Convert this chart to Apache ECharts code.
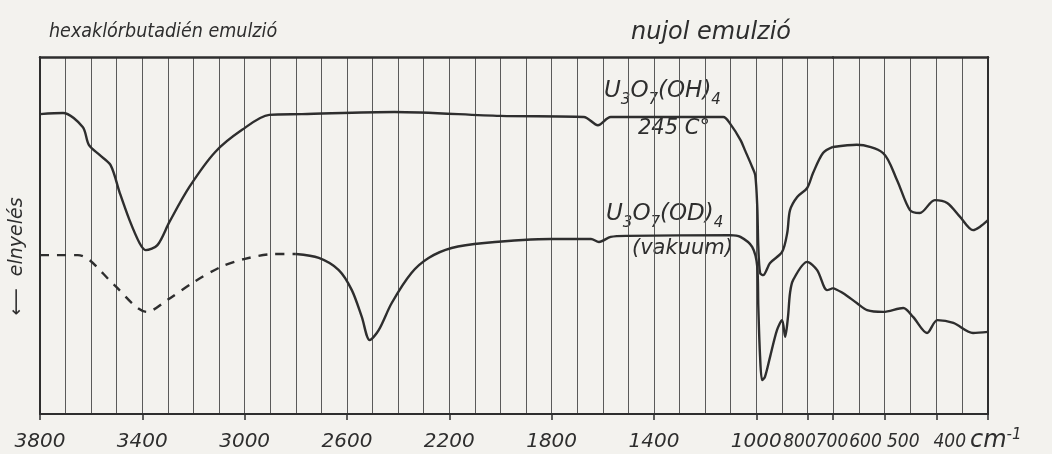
<!DOCTYPE html>
<html><head><meta charset="utf-8">
<script src="https://cdn.jsdelivr.net/npm/echarts@6/dist/echarts.min.js"></script>
<style>html,body{margin:0;padding:0;background:#f3f2ee;}#c{width:1052px;height:454px;}</style>
</head><body><div id="c"></div>
<script>
// wavenumbers (cm-1) and relative level (arbitrary units, 0 = bottom, 100 = top of frame)
const ohWave = [3800,3710,3633,3609,3566,3524,3488,3450,3411,3387,3341,3294,3216,3115,3010,2904,2776,2414,2000,1674,1619,1569,1129,1101,1062,1043,1016,1004,996,992,985,973,946,899,879,868,840,801,778,739,700,654,603,576,551,532,503,479,454,429,416,400];
const ohVal  = [84.0,84.3,80.4,75.4,72.5,69.7,61.9,54.3,47.9,45.9,47.3,53.8,63.6,73.4,79.6,83.8,84.0,84.6,83.5,83.2,80.9,83.2,83.2,81.2,76.8,73.7,69.2,66.9,58.0,46.8,39.5,38.9,42.3,45.4,50.7,57.1,60.8,63.3,67.5,73.1,74.8,75.4,73.1,65.5,57.1,56.3,59.9,59.1,55.2,51.5,52.4,54.3];
const odDashWave = [3800,3652,3606,3509,3381,3303,3198,3093,3003,2886,2800];
const odDashVal  = [44.5,44.5,43.1,36.1,28.6,31.9,37.0,41.2,43.4,44.8,44.8];
const odWave = [2800,2710,2632,2581,2542,2511,2476,2425,2348,2281,2191,2063,1802,1646,1615,1569,1502,1101,1062,1016,996,992,985,977,966,946,919,899,887,876,868,856,801,762,723,700,681,654,634,603,564,545,518,498,467,429,400];
const odVal  = [44.8,43.7,40.3,34.7,27.2,20.7,23.5,31.1,39.5,43.7,46.5,47.9,49.0,49.0,48.2,49.6,49.9,50.1,49.6,46.8,41.2,30.0,16.0,9.5,10.4,16.0,23.5,26.3,21.6,27.2,33.9,37.5,42.6,40.3,34.7,35.3,33.9,31.1,29.1,28.6,29.7,27.2,22.7,26.3,25.5,22.7,23.0];
const ticksHigh = [3800,3400,3000,2600,2200,1800,1400,1000,800];
const ticksLow = [700,600,500,400];
const tickLabels = [3800,3400,3000,2600,2200,1800,1400,1000,800,700,600,500,400];

// layout: two linear pieces of the wavenumber scale (3800-700 and 700-400)
const L = {x0: 37, xBreak: 833, x1: 988, top: 57, h: 357};
// hand-lettered labels in the crowded part sit left of their ticks (pixels) and are narrower
const labelNudge = {800: -8, 700: -1, 600: -19, 500: -33, 400: -38};

const ink = '#2e2e2e';
const font = '"DejaVu Sans", sans-serif';
const fontC = '"DejaVu Sans Condensed", "DejaVu Sans", sans-serif';
const wA = L.xBreak - L.x0, wB = L.x1 - L.xBreak;

function tickPx(v) { return v >= 700 ? L.x0 + (3800 - v) * wA / 3100 : L.xBreak + (700 - v) * wB / 300; }
const labA = [], labB = [], labText = {};
tickLabels.forEach(v => {
  const px = tickPx(v) + (labelNudge[v] || 0);
  const txt = labelNudge[v] !== undefined ? '{c|' + v + '}' : String(v);
  if (px <= L.xBreak) { const a = Math.round(3800 - (px - L.x0) * 3100 / wA); labA.push(a); labText['A' + a] = txt; }
  else { const b = Math.round(700 - (px - L.xBreak) * 300 / wB); labB.push(b); labText['B' + b] = txt; }
});

function part(w, v, lo, hi) {
  const out = [];
  for (let i = 0; i < w.length; i++) if (w[i] >= lo && w[i] <= hi) out.push([w[i], v[i]]);
  return out;
}
const labStyle = {fontFamily: font, fontStyle: 'italic', fontSize: 20, color: ink, margin: 18, hideOverlap: false,
  rich: {c: {fontFamily: fontC, fontStyle: 'italic', fontSize: 19, color: ink, padding: [1, 0, 0, 0]}}};
const lineBase = {type: 'line', showSymbol: false, smooth: 0.3, lineStyle: {color: ink, width: 2.4}, animation: false};
const gridLine = {show: true, lineStyle: {color: '#5a5a5a', width: 1}};

const sub = {fontFamily: font, fontStyle: 'italic', fontSize: 15, lineHeight: 15, verticalAlign: 'bottom', fill: ink};
const big = {fontFamily: font, fontStyle: 'italic', fontSize: 23, lineHeight: 32, fill: ink};

const chart = echarts.init(document.getElementById('c'), null, {renderer: 'canvas'});
chart.setOption({
  backgroundColor: '#f3f2ee',
  animation: false,
  title: [
    {text: 'hexaklórbutadién emulzió', left: 44, top: 17, textStyle: {fontFamily: fontC, fontStyle: 'italic', fontWeight: 'normal', fontSize: 19.5, color: ink}},
    {text: 'nujol emulzió', left: 626, top: 16, textStyle: {fontFamily: font, fontStyle: 'italic', fontWeight: 'normal', fontSize: 24, color: ink}}
  ],
  grid: [
    {left: L.x0, top: L.top, width: wA, height: L.h},
    {left: L.xBreak, top: L.top, width: wB, height: L.h}
  ],
  xAxis: [
    {type: 'value', gridIndex: 0, position: 'bottom', min: 700, max: 3800, inverse: true,
     axisLine: {show: true, lineStyle: {color: ink, width: 2}},
     axisTick: {show: true, customValues: ticksHigh, length: 6, lineStyle: {color: ink, width: 1.5}},
     axisLabel: Object.assign({customValues: labA, formatter: v => labText['A' + Math.round(v)] || ''}, labStyle),
     splitLine: {show: false}},
    {type: 'value', gridIndex: 1, position: 'bottom', min: 400, max: 700, inverse: true,
     axisLine: {show: true, lineStyle: {color: ink, width: 2}},
     axisTick: {show: true, customValues: ticksLow, length: 6, lineStyle: {color: ink, width: 1.5}},
     axisLabel: Object.assign({customValues: labB, formatter: v => labText['B' + Math.round(v)] || ''}, labStyle),
     splitLine: {show: false}},
    {type: 'value', gridIndex: 0, position: 'top', min: 700, max: 3800, interval: 100, inverse: true,
     axisLine: {show: true, lineStyle: {color: ink, width: 2.5}}, axisTick: {show: false}, axisLabel: {show: false},
     splitLine: gridLine},
    {type: 'value', gridIndex: 1, position: 'top', min: 400, max: 700, interval: 50, inverse: true,
     axisLine: {show: true, lineStyle: {color: ink, width: 2.5}}, axisTick: {show: false}, axisLabel: {show: false},
     splitLine: gridLine}
  ],
  yAxis: [
    {type: 'value', gridIndex: 0, min: 0, max: 100, axisLabel: {show: false}, axisTick: {show: false}, splitLine: {show: false},
     axisLine: {show: true, lineStyle: {color: ink, width: 2}},
     name: '⟵  elnyelés', nameLocation: 'middle', nameRotate: 90, nameGap: 13,
     nameTextStyle: {fontFamily: font, fontStyle: 'italic', fontSize: 19, color: ink, padding: [0, 42, 0, 0]}},
    {type: 'value', gridIndex: 1, min: 0, max: 100, position: 'right', axisLabel: {show: false}, axisTick: {show: false}, splitLine: {show: false},
     axisLine: {show: true, lineStyle: {color: ink, width: 2}}}
  ],
  series: [
    Object.assign({}, lineBase, {name: 'U3O7(OH)4 245', xAxisIndex: 0, yAxisIndex: 0, data: part(ohWave, ohVal, 700, 3800)}),
    Object.assign({}, lineBase, {name: 'U3O7(OH)4 245 b', xAxisIndex: 1, yAxisIndex: 1, data: part(ohWave, ohVal, 400, 700)}),
    Object.assign({}, lineBase, {name: 'U3O7(OD)4 hcb', xAxisIndex: 0, yAxisIndex: 0, data: part(odDashWave, odDashVal, 700, 3800),
      lineStyle: {color: ink, width: 2.4, type: [9, 8]}}),
    Object.assign({}, lineBase, {name: 'U3O7(OD)4', xAxisIndex: 0, yAxisIndex: 0, data: part(odWave, odVal, 700, 3800)}),
    Object.assign({}, lineBase, {name: 'U3O7(OD)4 b', xAxisIndex: 1, yAxisIndex: 1, data: part(odWave, odVal, 400, 700)})
  ],
  graphic: [
    {type: 'text', left: 604, top: 80, style: {text: '{b|U}{s|3}{b|O}{s|7}{b|(OH)}{s|4}', rich: {b: big, s: sub}}},
    {type: 'text', left: 638, top: 118, style: {text: '245 C°', font: 'italic 21px "DejaVu Sans"', fill: ink}},
    {type: 'text', left: 606, top: 203, style: {text: '{b|U}{s|3}{b|O}{s|7}{b|(OD)}{s|4}', rich: {b: big, s: sub}}},
    {type: 'text', left: 632, top: 238, style: {text: '(vakuum)', font: 'italic 21px "DejaVu Sans"', fill: ink}},
    {type: 'text', left: 970, top: 428, style: {text: '{b|cm}{p|-1}', rich: {
      b: {fontFamily: font, fontStyle: 'italic', fontSize: 24, lineHeight: 26, fill: ink},
      p: {fontFamily: font, fontStyle: 'italic', fontSize: 15, lineHeight: 15, verticalAlign: 'top', fill: ink}}}}
  ]
});
</script></body></html>
